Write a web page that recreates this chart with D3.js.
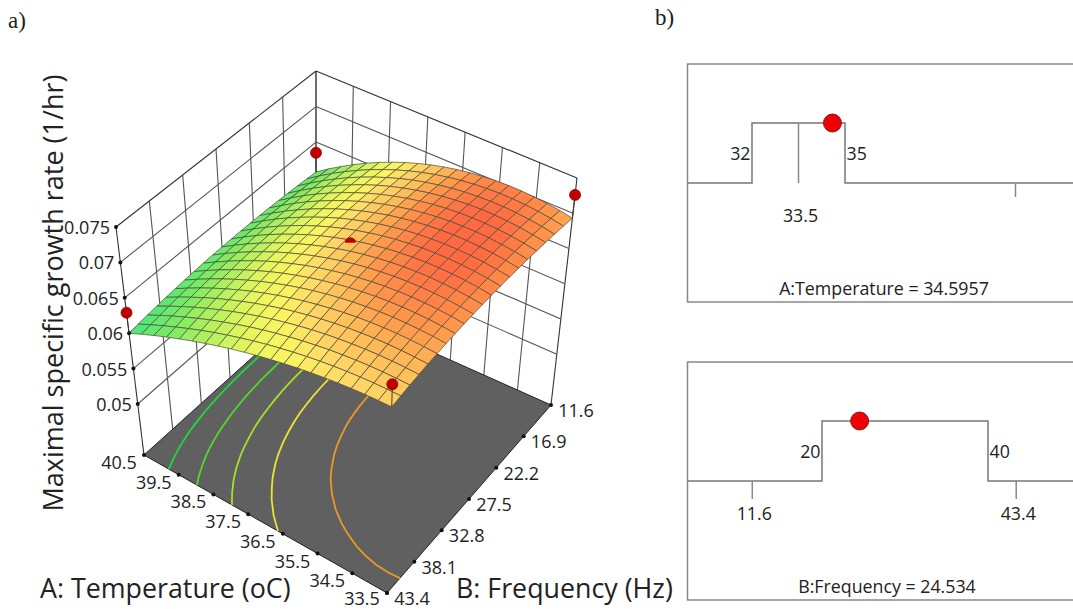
<!DOCTYPE html>
<html>
<head>
<meta charset="utf-8">
<script src="https://cdn.jsdelivr.net/npm/d3@7"></script>
<style>
	html, body { margin: 0; padding: 0; background: #fff; overflow: hidden; }
	text { font-family: "Open Sans", sans-serif; fill: #222; }
</style>
</head>
<body>
<script>
// tick labels
const tempTicks = [40.5, 39.5, 38.5, 37.5, 36.5, 35.5, 34.5, 33.5];
const freqTicks = [43.4, 38.1, 32.8, 27.5, 22.2, 16.9, 11.6];
const rateTicks = [0.05, 0.055, 0.06, 0.065, 0.07, 0.075];
const rateFloor = 0.0428;

// surface, rate x 1e5
// rows go along frequency 43.4 -> 11.6, columns along temperature 40.5 -> 33.5
const rateE5 = [
	[6000,6080,6157,6229,6297,6361,6421,6477,6529,6576,6620,6659,6695,6726,6753,6776,6795,6810,6821,6827,6830],
	[6019,6103,6183,6258,6329,6396,6458,6515,6568,6617,6661,6700,6735,6766,6792,6814,6831,6844,6853,6856,6856],
	[6037,6125,6208,6286,6359,6428,6491,6550,6605,6654,6698,6738,6773,6803,6829,6849,6865,6876,6882,6883,6880],
	[6053,6144,6230,6311,6387,6457,6523,6583,6638,6688,6733,6773,6808,6838,6862,6881,6896,6905,6909,6907,6901],
	[6067,6162,6250,6334,6412,6484,6551,6613,6669,6720,6766,6806,6840,6869,6893,6911,6924,6931,6933,6929,6920],
	[6080,6177,6269,6355,6435,6509,6578,6641,6698,6749,6795,6835,6869,6898,6921,6938,6949,6955,6955,6949,6938],
	[6091,6191,6285,6373,6455,6531,6601,6665,6723,6776,6822,6862,6896,6924,6946,6962,6972,6976,6974,6966,6952],
	[6101,6203,6300,6390,6474,6551,6623,6688,6746,6799,6845,6886,6919,6947,6968,6983,6992,6995,6991,6981,6965],
	[6109,6214,6312,6404,6490,6569,6641,6707,6767,6820,6866,6907,6940,6967,6988,7002,7010,7011,7006,6994,6976],
	[6115,6222,6323,6416,6503,6584,6657,6724,6784,6838,6885,6925,6958,6985,7005,7018,7025,7024,7018,7004,6984],
	[6120,6229,6331,6426,6515,6596,6671,6738,6799,6853,6900,6940,6973,6999,7019,7031,7037,7035,7027,7012,6990],
	[6123,6234,6338,6434,6524,6606,6682,6750,6811,6866,6913,6953,6986,7011,7030,7042,7046,7044,7034,7018,6994],
	[6125,6237,6342,6440,6531,6614,6690,6759,6821,6875,6922,6962,6995,7020,7039,7050,7053,7050,7039,7021,6996],
	[6125,6239,6345,6444,6535,6619,6696,6766,6828,6882,6929,6969,7002,7027,7044,7055,7057,7054,7041,7022,6995],
	[6123,6238,6345,6445,6538,6622,6700,6769,6832,6886,6934,6973,7005,7030,7047,7057,7059,7054,7041,7020,6992],
	[6120,6236,6344,6445,6538,6623,6701,6771,6833,6888,6935,6975,7007,7031,7048,7057,7058,7052,7038,7017,6988],
	[6115,6232,6341,6442,6535,6621,6699,6769,6832,6886,6934,6973,7005,7029,7045,7053,7054,7047,7033,7010,6980],
	[6109,6226,6335,6437,6531,6616,6695,6765,6828,6882,6929,6969,7000,7024,7040,7048,7048,7040,7025,7002,6971],
	[6101,6218,6328,6430,6524,6610,6688,6758,6821,6876,6922,6961,6993,7016,7031,7039,7039,7031,7015,6991,6960],
	[6091,6209,6319,6420,6514,6600,6679,6749,6811,6866,6913,6951,6982,7005,7020,7028,7027,7019,7002,6978,6946],
	[6080,6198,6307,6409,6503,6589,6667,6737,6799,6854,6900,6939,6969,6992,7007,7014,7013,7004,6987,6963,6930]
];
const contourLevels = [0.0616, 0.0632, 0.0649, 0.0666, 0.0687];

// design points
const designTemp = [40.5, 40.5, 33.5, 33.5];
const designFreq = [43.4, 11.6, 11.6, 43.4];
const designRate = [0.0629, 0.0635, 0.0726, 0.0714];
const centerTemp = 37;
const centerFreq = 27.5;
const centerRate = 0.0702;

// ramp for the surface
const rampRates = [0.0600, 0.0625, 0.0645, 0.0660, 0.0672, 0.0682, 0.0690, 0.0696, 0.0701, 0.0705];
const rampColors = ['#45e87a', '#7ceb63', '#b8f25e', '#e6f65e', '#fbf562', '#ffd868', '#ffc05a', '#ffa04e', '#ff8648', '#ff6a42'];

// right hand panels
const tempLimits = [32, 35];
const tempRange = [33.5, 40.5];
const tempValue = 34.5957;
const freqLimits = [20, 40];
const freqRange = [11.6, 43.4];
const freqValue = 24.534;

const width = 1073, height = 610;

const svg = d3.select('body').append('svg')
	.attr('width', width)
	.attr('height', height)
	.style('display', 'block');

// the plot box: floor and top corners on the screen, [temp end][freq end]
const floorBox = [[[144, 455], [316, 300]], [[387, 593], [551, 405]]];
const topBox = [[[116, 227], [316, 71]], [[393, 358], [577, 178]]];

const uScale = d3.scaleLinear().domain([40.5, 33.5]).range([0, 1]);
const vScale = d3.scaleLinear().domain([43.4, 11.6]).range([0, 1]);
const wScale = d3.scaleLinear().domain([rateFloor, 0.075]).range([0, 1]);
const meshScale = d3.scaleLinear().domain([0, 20]).range([0, 1]);

function bilerp(box, u, v, k) {
	return (1 - u) * ((1 - v) * box[0][0][k] + v * box[0][1][k]) + u * ((1 - v) * box[1][0][k] + v * box[1][1][k]);
}
function projectUVW(u, v, w) {
	return [0, 1].map(function (k) {
		return (1 - w) * bilerp(floorBox, u, v, k) + w * bilerp(topBox, u, v, k);
	});
}
function project(temp, freq, rate) {
	return projectUVW(uScale(temp), vScale(freq), wScale(rate));
}
const line = d3.line();

// back walls
const walls = svg.append('g').attr('fill', 'none').attr('stroke', '#555').attr('stroke-width', 1.1);
function wallLine(a, b, dark) {
	walls.append('path').attr('d', line([a, b])).attr('stroke', dark ? '#333' : null);
}
freqTicks.forEach(function (f) {
	wallLine(project(40.5, f, rateFloor), project(40.5, f, 0.075), f === 43.4 || f === 11.6);
});
tempTicks.forEach(function (t) {
	wallLine(project(t, 11.6, rateFloor), project(t, 11.6, 0.075), t === 33.5);
});
rateTicks.forEach(function (r) {
	wallLine(project(40.5, 43.4, r), project(40.5, 11.6, r), r === 0.075);
	wallLine(project(40.5, 11.6, r), project(33.5, 11.6, r), r === 0.075);
});

// floor
svg.append('path')
	.attr('d', line([
		project(40.5, 43.4, rateFloor), project(33.5, 43.4, rateFloor),
		project(33.5, 11.6, rateFloor), project(40.5, 11.6, rateFloor)
	]) + 'Z')
	.attr('fill', '#606060')
	.attr('stroke', '#222')
	.attr('stroke-width', 1);

const rateColor = d3.scaleLinear().domain(rampRates).range(rampColors).clamp(true);

// contours on the floor, d3.contours puts sample i at i + 0.5
const contourGen = d3.contours().size([21, 21]).smooth(true);
const flat = rateE5.flat().map(function (d) { return d / 1e5; });
const clampMesh = d3.scaleLinear().domain([0.5, 20.5]).range([0, 1]).clamp(true);
contourLevels.forEach(function (level, n) {
	const geo = contourGen.contour(flat, level);
	const runs = [];
	geo.coordinates.forEach(function (poly) {
		poly.forEach(function (ring) {
			let run = [];
			let prev = null;
			ring.forEach(function (p) {
				const uv = [clampMesh(p[0]), clampMesh(p[1])];
				// segments lying on the border of the grid are not contour lines
				const onBorder = prev && ((uv[0] === prev[0] && (uv[0] === 0 || uv[0] === 1)) ||
					(uv[1] === prev[1] && (uv[1] === 0 || uv[1] === 1)));
				if (onBorder) {
					if (run.length > 1) runs.push(run);
					run = [];
				}
				run.push(projectUVW(uv[0], uv[1], 0));
				prev = uv;
			});
			if (run.length > 1) runs.push(run);
		});
	});
	svg.append('g').selectAll('path').data(runs).enter().append('path')
		.attr('d', line)
		.attr('fill', 'none')
		.attr('stroke', ['#1fd83f', '#4fd82f', '#a5e02a', '#ece432', '#ea9a20'][n])
		.attr('stroke-width', 1.8);
});

// surface cells back to front
const cells = [];
d3.range(20).forEach(function (j) {
	d3.range(20).forEach(function (i) {
		const corners = [[i, j], [i + 1, j], [i + 1, j + 1], [i, j + 1]];
		cells.push({
			depth: i - j,
			rate: d3.mean(corners, function (c) { return rateE5[c[1]][c[0]] / 1e5; }),
			points: corners.map(function (c) {
				return projectUVW(meshScale(c[0]), meshScale(c[1]), wScale(rateE5[c[1]][c[0]] / 1e5));
			})
		});
	});
});
cells.sort(function (a, b) { return d3.ascending(a.depth, b.depth); });
svg.append('g').selectAll('path').data(cells).enter().append('path')
	.attr('d', function (d) { return line(d.points) + 'Z'; })
	.attr('fill', function (d) { return rateColor(d.rate); })
	.attr('stroke', '#4a4a38')
	.attr('stroke-width', 0.7)
	.attr('stroke-linejoin', 'round');

// design points with stems down to the surface
designTemp.forEach(function (t, n) {
	const f = designFreq[n];
	const onSurface = rateE5[Math.round(vScale(f) * 20)][Math.round(uScale(t) * 20)] / 1e5;
	const p = project(t, f, designRate[n]);
	svg.append('path')
		.attr('d', line([p, project(t, f, onSurface)]))
		.attr('stroke', '#3a3a30')
		.attr('stroke-width', 1);
	svg.append('circle')
		.attr('cx', p[0]).attr('cy', p[1]).attr('r', 5.5)
		.attr('fill', '#c00000')
		.attr('stroke', '#8a0000')
		.attr('stroke-width', 0.8);
});

// centre point sits half under the surface
const centerPos = project(centerTemp, centerFreq, centerRate);
svg.append('path')
	.attr('transform', 'translate(' + centerPos + ')')
	.attr('d', d3.arc()({ innerRadius: 0, outerRadius: 5.5, startAngle: -Math.PI / 2, endAngle: Math.PI / 2 }))
	.attr('fill', '#c00000');

// tick dots and labels
function tick(p, label, dx, dy, anchor) {
	svg.append('circle').attr('cx', p[0]).attr('cy', p[1]).attr('r', 2).attr('fill', '#111');
	svg.append('text')
		.attr('x', p[0] + dx).attr('y', p[1] + dy)
		.attr('text-anchor', anchor)
		.attr('dominant-baseline', 'central')
		.attr('font-size', 18)
		.text(label);
}
rateTicks.forEach(function (r) {
	tick(project(40.5, 43.4, r), String(r), -6, 0, 'end');
});
tempTicks.forEach(function (t) {
	tick(project(t, 43.4, rateFloor), d3.format('.1f')(t), -25, t === 33.5 ? 4.5 : 7, 'middle');
});
freqTicks.forEach(function (f) {
	tick(project(33.5, f, rateFloor), d3.format('.1f')(f), 25, 5, 'middle');
});

// axis titles
svg.append('text')
	.attr('transform', 'translate(52,293) rotate(-90)')
	.attr('text-anchor', 'middle').attr('dominant-baseline', 'central')
	.attr('font-size', 27)
	.text('Maximal specific growth rate (1/hr)');
svg.append('text')
	.attr('x', 40).attr('y', 587).attr('dominant-baseline', 'central')
	.attr('font-size', 26.8)
	.text('A: Temperature (oC)');
svg.append('text')
	.attr('x', 456).attr('y', 587).attr('dominant-baseline', 'central')
	.attr('font-size', 26.8)
	.text('B: Frequency (Hz)');

// a) b)
[['a)', 8, 28], ['b)', 655, 25]].forEach(function (d) {
	svg.append('text')
		.attr('x', d[1]).attr('y', d[2])
		.attr('font-size', 23)
		.style('font-family', '"Liberation Serif", serif')
		.text(d[0]);
});

// constraint panels
function panel(top, bottom, base, high, limits, ends, x, value, title, titleX, tickTop, tickLabels) {
	const g = svg.append('g');
	g.append('rect')
		.attr('x', 687.5).attr('y', top)
		.attr('width', 500).attr('height', bottom - top)
		.attr('fill', 'none').attr('stroke', '#888').attr('stroke-width', 1.5);
	g.append('path')
		.attr('d', line([[687.5, base], [x(limits[0]), base], [x(limits[0]), high], [x(limits[1]), high], [x(limits[1]), base], [1080, base]]))
		.attr('fill', 'none').attr('stroke', '#777').attr('stroke-width', 1.5);
	ends.forEach(function (e) {
		const inside = e > limits[0] && e < limits[1];
		g.append('path')
			.attr('d', line([[x(e), inside ? high : base], [x(e), inside ? base : base + tickTop]]))
			.attr('stroke', '#888').attr('stroke-width', 1.5);
	});
	tickLabels.forEach(function (e) {
		g.append('text')
			.attr('x', x(e) + 2).attr('y', base + 32)
			.attr('text-anchor', 'middle').attr('dominant-baseline', 'central')
			.attr('font-size', 17.8)
			.text(e);
	});
	limits.forEach(function (e, n) {
		g.append('text')
			.attr('x', x(e) + (n ? 1.5 : -1.5)).attr('y', base - 30)
			.attr('text-anchor', n ? 'start' : 'end').attr('dominant-baseline', 'central')
			.attr('font-size', 17.8)
			.text(e);
	});
	g.append('circle')
		.attr('cx', x(value)).attr('cy', high).attr('r', 9)
		.attr('fill', '#f00000').attr('stroke', '#7a2020').attr('stroke-width', 1);
	g.append('text')
		.attr('x', titleX).attr('y', bottom - 14)
		.attr('text-anchor', 'middle').attr('dominant-baseline', 'central')
		.attr('font-size', 17.8)
		.text(title);
}
panel(64, 302, 183, 123, tempLimits, tempRange,
	d3.scaleLinear().domain(tempLimits).range([752, 845]),
	tempValue, 'A:Temperature = ' + tempValue, 884, 14, [33.5]);
panel(362, 600, 481, 421, freqLimits, freqRange,
	d3.scaleLinear().domain(freqLimits).range([822, 988]),
	freqValue, 'B:Frequency = ' + freqValue, 887, 18, freqRange);
</script>
</body>
</html>
